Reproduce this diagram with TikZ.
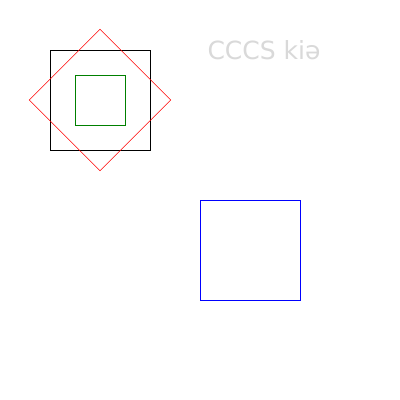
\documentclass[tikz,border=0pt]{standalone}
\usepackage{fontspec}
\setmainfont{DejaVu Sans}
\begin{document}
\begin{tikzpicture}[x=1pt,y=-1pt,line width=0.9pt,
  sq/.style={draw,line width=0.9pt}]
\useasboundingbox[fill=white] (0,0) rectangle (400,400);
\draw[sq,black] (50,50) rectangle (150,150);
\draw[sq,green!50!black] (75,75) rectangle (125,125);
\draw[sq,red,line width=0.6pt] (100,29.3) -- (170.7,100) -- (100,170.7) -- (29.3,100) -- cycle;
\draw[sq,blue] (200,200) rectangle (300,300);
\node[text=black!15,font=\fontsize{25}{25}\selectfont,inner sep=0pt] (t) at (264,50) {CCCS kiə};
\end{tikzpicture}
\end{document}
